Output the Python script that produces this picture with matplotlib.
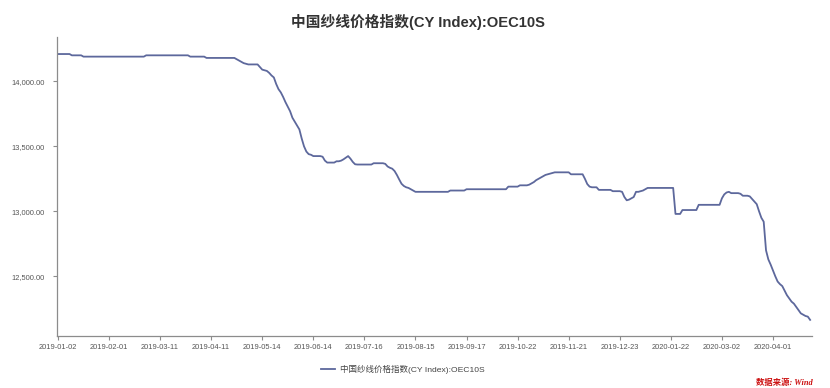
import matplotlib
matplotlib.use("Agg")
import matplotlib.pyplot as plt
from matplotlib.ticker import FuncFormatter

title = "中国纱线价格指数(CY Index):OEC10S"
series_name = "中国纱线价格指数(CY Index):OEC10S"
source_text = "数据来源: Wind"

tick_labels = ['2019-01-02', '2019-02-01', '2019-03-11', '2019-04-11', '2019-05-14',
               '2019-06-14', '2019-07-16', '2019-08-15', '2019-09-17', '2019-10-22',
               '2019-11-21', '2019-12-23', '2020-01-22', '2020-03-02', '2020-04-01']
tick_step = 22

y_ticks = [12500, 13000, 13500, 14000]

values = [
    # 0-10
    14210, 14210, 14210, 14210, 14210, 14210, 14200, 14200, 14200, 14200, 14200,
    # 11-37
    14190, 14190, 14190, 14190, 14190, 14190, 14190, 14190, 14190, 14190,
    14190, 14190, 14190, 14190, 14190, 14190, 14190, 14190, 14190, 14190,
    14190, 14190, 14190, 14190, 14190, 14190, 14190,
    # 38-56
    14200, 14200, 14200, 14200, 14200, 14200, 14200, 14200, 14200, 14200,
    14200, 14200, 14200, 14200, 14200, 14200, 14200, 14200, 14200,
    # 57-63
    14190, 14190, 14190, 14190, 14190, 14190, 14190,
    # 64-76
    14180, 14180, 14180, 14180, 14180, 14180, 14180, 14180, 14180, 14180,
    14180, 14180, 14180,
    # 77-86
    14170, 14160, 14150, 14140, 14135, 14130, 14130, 14130, 14130, 14130,
    # 87-109
    14110, 14090, 14085, 14080, 14065, 14045, 14030, 13980, 13940, 13915,
    13880, 13840, 13805, 13770, 13720, 13690, 13660, 13630, 13560, 13500,
    13460, 13440, 13435,
    # 110-128
    13425, 13425, 13425, 13425, 13420, 13390, 13375, 13375, 13375, 13375,
    13385, 13385, 13390, 13400, 13412, 13425, 13405, 13380, 13362,
    # 129-153
    13360, 13360, 13360, 13360, 13360, 13360, 13360,
    13370, 13370, 13370, 13370, 13370,
    13365, 13345, 13335, 13328, 13310, 13280, 13245, 13212, 13195, 13185,
    13180, 13170, 13160,
    # 154-168
    13150, 13150, 13150, 13150, 13150, 13150, 13150, 13150, 13150, 13150,
    13150, 13150, 13150, 13150, 13150,
    # 169-175
    13160, 13160, 13160, 13160, 13160, 13160, 13160,
    # 176-193
    13170, 13170, 13170, 13170, 13170, 13170, 13170, 13170, 13170, 13170,
    13170, 13170, 13170, 13170, 13170, 13170, 13170, 13170,
    # 194-202
    13190, 13190, 13190, 13190, 13190, 13200, 13200, 13200, 13200,
    # 203-213
    13205, 13215, 13225, 13240, 13250, 13260, 13270, 13280, 13285, 13290, 13295,
    # 214-226
    13300, 13300, 13300, 13300, 13300, 13300, 13300,
    13285, 13285, 13285, 13285, 13285, 13285,
    # 227-253
    13250, 13210, 13190, 13185, 13185, 13185,
    13165, 13165, 13165, 13165, 13165, 13165,
    13155, 13155, 13155, 13155,
    13150, 13110, 13085, 13090, 13100, 13110, 13150, 13150, 13155, 13160, 13170,
    # 254-265
    13180, 13180, 13180, 13180, 13180, 13180, 13180, 13180, 13180, 13180,
    13180, 13180,
    # 266-285
    12980, 12980, 12980,
    13010, 13010, 13010, 13010, 13010, 13010, 13010,
    13050, 13050, 13050, 13050, 13050, 13050, 13050, 13050, 13050, 13050,
    # 286-297
    13100, 13130, 13145, 13150, 13140, 13140, 13140, 13140, 13135,
    13120, 13120, 13120,
    # 298-324
    13115, 13095, 13075, 13055, 13000, 12950, 12920, 12700, 12630, 12590,
    12545, 12500, 12460, 12440, 12425, 12390, 12355, 12330, 12305, 12290,
    12265, 12240, 12215, 12205, 12195, 12190, 12165,
]

line_color = "#5d689c"
fam = ['Liberation Sans', 'Noto Sans CJK SC', 'DejaVu Sans']
plt.rcParams['font.family'] = fam

fig = plt.figure(figsize=(8.30, 3.88), dpi=100)
ax = fig.add_axes([57 / 830, 1 - 336 / 388, (812 - 57) / 830, (336 - 37) / 388])

x = list(range(len(values)))
ax.plot(x, values, color=line_color, lw=1.3, label=series_name)

ax.set_xlim(-0.4, (812 - 58) / 2.3214)
ax.set_ylim(12041, 14341)

ax.set_xticks([i * tick_step for i in range(len(tick_labels))])
ax.set_xticklabels(tick_labels)
ax.set_yticks(y_ticks)
ax.yaxis.set_major_formatter(FuncFormatter(lambda v, p: f"{v:,.2f}"))

for s in ['top', 'right']:
    ax.spines[s].set_visible(False)
for s in ['left', 'bottom']:
    ax.spines[s].set_color('#8c8c8c')
    ax.spines[s].set_linewidth(0.9)

ax.tick_params(axis='both', colors='#8c8c8c', labelcolor='#555555', labelsize=5.4,
               length=3, width=0.8)
ax.tick_params(axis='x', pad=2.5)
ax.tick_params(axis='y', pad=6)

fig.text(418 / 830, 1 - 22 / 388, title, ha='center', va='center',
         fontsize=10.6, fontweight='bold', color='#333333')

leg = fig.legend(loc='center', bbox_to_anchor=(403 / 830, 1 - 369 / 388),
                 frameon=False, fontsize=6.1, handlelength=1.6, handletextpad=0.6,
                 borderpad=0)
for t in leg.get_texts():
    t.set_color('#444444')

fig.text(813 / 830, 1 - 383 / 388, source_text, ha='right', va='center',
         fontsize=6, color='#cc1111', fontweight='bold', style='italic',
         family=['Liberation Serif', 'Noto Sans CJK SC'])

fig.savefig("out.png", dpi=100)
